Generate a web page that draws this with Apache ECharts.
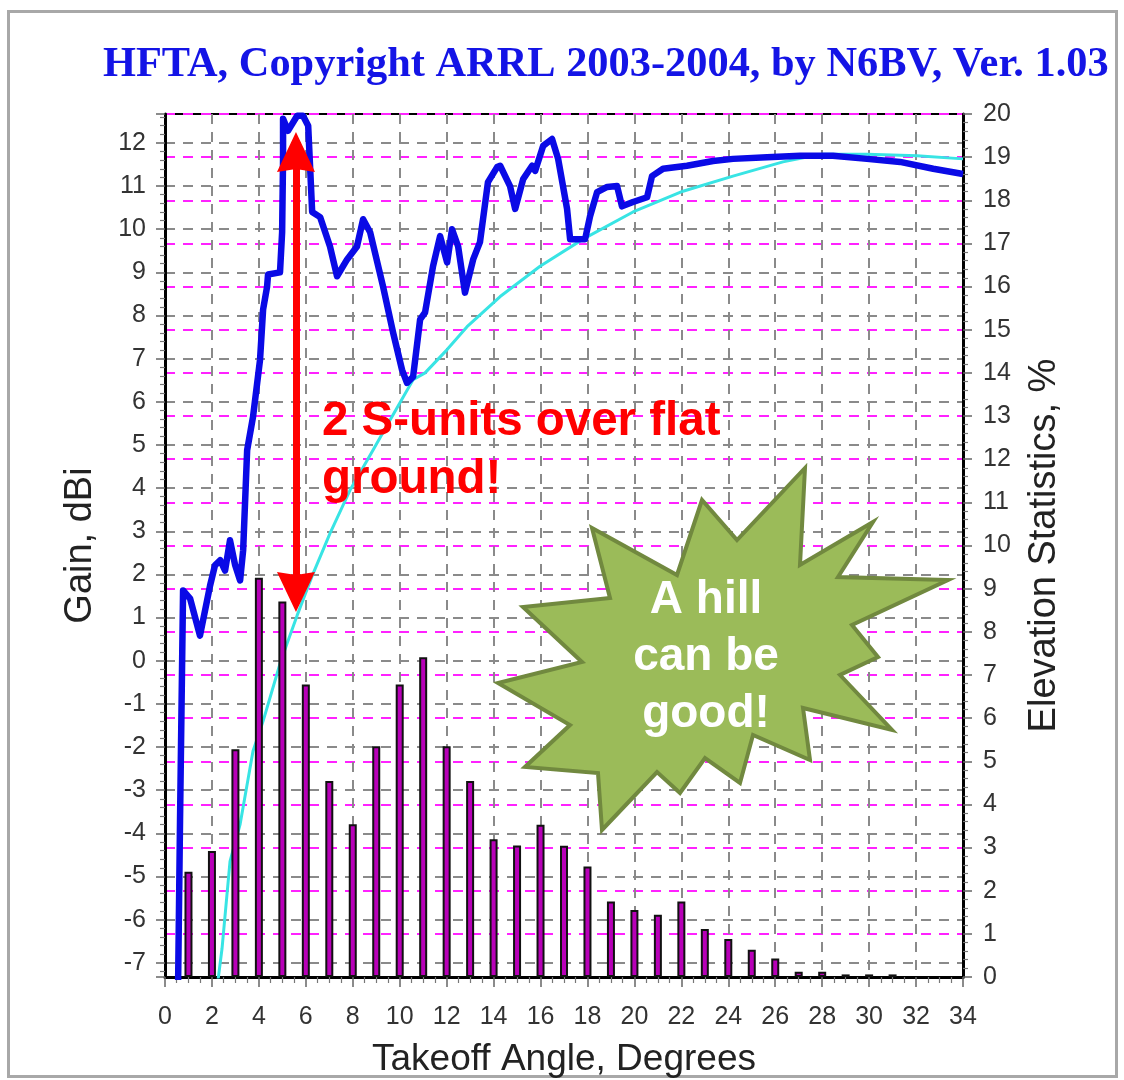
<!DOCTYPE html>
<html>
<head>
<meta charset="utf-8">
<script src="https://cdn.jsdelivr.net/npm/echarts@6/dist/echarts.min.js"></script>
<style>
html,body{margin:0;padding:0;background:#fff;}
#chart{width:1124px;height:1080px;}
</style>
</head>
<body>
<div id="chart"></div>
<script>
// ---- Data ----
const titleText = 'HFTA, Copyright ARRL 2003-2004, by N6BV, Ver. 1.03';

// Blue: gain over the hill terrain (dBi) vs takeoff angle (deg)
const hillAngle = [0.56,0.64,0.77,1.07,1.49,1.92,2.13,2.35,2.56,2.77,2.99,3.20,3.33,3.50,3.75,4.05,4.18,4.35,4.39,4.90,4.99,5.03,5.03,5.24,5.63,5.88,6.10,6.18,6.27,6.61,7.03,7.33,7.76,8.18,8.44,8.74,9.29,9.72,10.10,10.31,10.57,10.87,11.08,11.42,11.72,12.02,12.23,12.49,12.78,13.13,13.42,13.76,14.15,14.28,14.70,14.92,15.26,15.64,15.77,16.11,16.49,16.75,17.13,17.26,17.90,18.11,18.41,18.84,19.26,19.47,19.94,20.54,20.75,21.22,22.24,23.35,24.20,25.65,27.06,28.46,29.91,31.32,32.73,34.0];
const hillGain  = [-7.4,-3.72,1.63,1.44,0.58,1.74,2.21,2.33,2.09,2.79,2.21,1.86,2.56,4.88,5.65,6.98,8.14,8.67,8.95,9.0,9.93,11.63,12.56,12.28,12.63,12.63,12.40,11.47,10.40,10.28,9.60,8.91,9.30,9.60,10.23,9.93,8.67,7.60,6.74,6.44,6.58,7.91,8.07,9.14,9.84,9.23,10.0,9.60,8.53,9.30,9.70,11.09,11.44,11.47,11.0,10.47,11.16,11.47,11.35,11.93,12.09,11.63,10.47,9.77,9.77,10.30,10.86,10.98,11.0,10.53,10.63,10.74,11.23,11.40,11.47,11.58,11.63,11.67,11.70,11.70,11.63,11.56,11.40,11.28];

// Cyan: gain over flat ground (dBi)
const flatAngle = [2.26,2.43,2.77,3.20,3.75,4.18,4.90,5.20,5.63,6.31,7.03,7.88,8.86,9.59,10.57,11.08,12.02,12.87,14.28,15.98,17.81,19.94,22.07,24.20,26.33,28.0,29.91,32.04,34.0];
const flatGain  = [-7.4,-6.67,-4.65,-3.79,-2.09,-1.40,-0.07,0.40,1.05,2.02,2.95,3.95,4.88,5.58,6.51,6.67,7.21,7.74,8.44,9.14,9.77,10.40,10.88,11.23,11.56,11.74,11.74,11.70,11.63];

// Bars: elevation statistics (%) at integer takeoff angles
const elevAngle = [1,2,3,4,5,6,7,8,9,10,11,12,13,14,15,16,17,18,19,20,21,22,23,24,25,26,27,28,29,30,31];
const elevPct   = [2.44,2.92,5.28,9.25,8.70,6.78,4.54,3.54,5.35,6.78,7.41,5.35,4.54,3.19,3.05,3.53,3.04,2.56,1.75,1.55,1.44,1.75,1.11,0.88,0.63,0.43,0.12,0.12,0.06,0.06,0.06];

// Annotation arrow (angle, gain at both ends)
const arrowAngle = 5.58;
const arrowGainLow = 1.59;
const arrowGainHigh = 11.79;

const zip = (a, b) => a.map((v, i) => [v, b[i]]);

const chart = echarts.init(document.getElementById('chart'), null, {renderer: 'canvas'});

const GRAY = '#8a8a8a';
const MAG = '#ff22ff';
const labelFont = '"Liberation Sans", Arial, sans-serif';

const starPts = [[805,468],[800,565],[873,522],[838,577],[948,580],[852,625],[878,657],[840,675],[892,730],[803,708],[810,760],[753,735],[740,783],[705,758],[680,793],[657,772],[602,830],[598,773],[525,767],[570,725],[498,683],[582,662],[523,607],[610,598],[592,528],[677,575],[702,500],[737,540]];

const option = {
  backgroundColor: '#fff',
  animation: false,
  title: {
    text: titleText,
    left: 98, top: 39,
    textStyle: {fontFamily: '"Liberation Serif", "Times New Roman", serif', fontWeight: 'bold', fontSize: 42.4, color: '#1414e6'}
  },
  grid: {left: 165, top: 114, width: 798, height: 863, show: true, borderColor: '#000', borderWidth: 2,
         backgroundColor: 'transparent', containLabel: false, outerBoundsMode: 'none'},
  xAxis: {
    type: 'value', min: 0, max: 34, interval: 2,
    name: 'Takeoff Angle, Degrees', nameLocation: 'middle', nameGap: 64, nameMoveOverlap: false,
    nameTextStyle: {fontFamily: labelFont, fontSize: 37, color: '#222'},
    axisLine: {show: true, onZero: false, lineStyle: {color: '#000', width: 3}},
    axisTick: {show: true, length: 10, lineStyle: {color: '#666', width: 1.5}},
    minorTick: {show: true, splitNumber: 4, length: 6, lineStyle: {color: '#777', width: 1.2}},
    axisLabel: {fontFamily: labelFont, fontSize: 25, color: '#333', margin: 28},
    splitLine: {show: true, lineStyle: {color: GRAY, width: 2, type: [10, 8]}}
  },
  yAxis: [
    {
      type: 'value', min: -7.33, max: 12.67, splitNumber: 20, minInterval: 1, maxInterval: 1,
      position: 'left',
      name: 'Gain, dBi', nameLocation: 'middle', nameGap: 65, nameRotate: 90, nameMoveOverlap: false,
      nameTextStyle: {fontFamily: labelFont, fontSize: 38, color: '#222'},
      axisLine: {show: true, onZero: false, lineStyle: {color: '#000', width: 3}},
      axisTick: {show: true, length: 9, lineStyle: {color: '#666', width: 1.5}},
      minorTick: {show: true, splitNumber: 5, length: 5, lineStyle: {color: '#777', width: 1.2}},
      axisLabel: {fontFamily: labelFont, fontSize: 25, color: '#333', margin: 19,
        formatter: v => (Math.abs(v - Math.round(v)) < 1e-6 ? String(Math.round(v)) : '')},
      splitLine: {show: true, lineStyle: {color: GRAY, width: 2, type: [10, 8]}}
    },
    {
      type: 'value', min: 0, max: 20, interval: 1,
      position: 'right',
      name: 'Elevation Statistics, %', nameLocation: 'middle', nameGap: 63, nameRotate: 90, nameMoveOverlap: false,
      nameTextStyle: {fontFamily: labelFont, fontSize: 38, color: '#222'},
      axisLine: {show: true, onZero: false, lineStyle: {color: '#000', width: 3}},
      axisTick: {show: true, length: 9, lineStyle: {color: '#666', width: 1.5}},
      minorTick: {show: true, splitNumber: 5, length: 5, lineStyle: {color: '#777', width: 1.2}},
      axisLabel: {fontFamily: labelFont, fontSize: 25, color: '#333', margin: 20},
      splitLine: {show: true, lineStyle: {color: MAG, width: 2, type: [10, 8]}}
    }
  ],
  series: [
    {
      name: 'Flat ground', type: 'line', xAxisIndex: 0, yAxisIndex: 0, z: 2,
      data: zip(flatAngle, flatGain), symbol: 'none', smooth: false,
      lineStyle: {color: '#38e4e4', width: 3}
    },
    {
      name: 'Elevation statistics', type: 'bar', xAxisIndex: 0, yAxisIndex: 1, z: 3,
      data: zip(elevAngle, elevPct), barWidth: 8,
      itemStyle: {color: '#b800b8', borderColor: '#111', borderWidth: 2}
    },
    {
      name: 'Hill terrain', type: 'line', xAxisIndex: 0, yAxisIndex: 0, z: 4,
      data: zip(hillAngle, hillGain), symbol: 'none', smooth: false,
      lineStyle: {color: '#0a0ae6', width: 6.5, join: 'round'}
    },
    {
      name: 'arrow', type: 'line', xAxisIndex: 0, yAxisIndex: 0, z: 6,
      data: [], symbol: 'none',
      markLine: {
        silent: true, animation: false,
        symbol: ['path://M10,0 L20,40 L10,37 L0,40 Z', 'path://M10,0 L20,40 L10,37 L0,40 Z'],
        symbolSize: [38, 40],
        lineStyle: {color: '#ff0000', width: 7, type: 'solid'},
        label: {show: false},
        emphasis: {disabled: true},
        data: [[{coord: [arrowAngle, arrowGainLow]}, {coord: [arrowAngle, arrowGainHigh]}]]
      }
    }
  ],
  graphic: [
    {type: 'rect', z: 0, silent: true, shape: {x: 8.5, y: 11.5, width: 1108, height: 1065},
     style: {fill: 'none', stroke: '#a8a8a8', lineWidth: 3}},
    {type: 'polygon', z: 50, silent: true, shape: {points: starPts},
     style: {fill: '#9bbb59', stroke: '#71893f', lineWidth: 4, lineJoin: 'miter'}},
    {type: 'text', z: 51, silent: true,
     style: {x: 706, y: 657, text: 'A hill\ncan be\ngood!', align: 'center', verticalAlign: 'middle',
             font: 'bold 46px "Liberation Sans", Arial, sans-serif', fill: '#ffffff', lineHeight: 57}},
    {type: 'text', z: 51, silent: true,
     style: {x: 322, y: 451, text: '2 S-units over flat\nground!', align: 'left', verticalAlign: 'middle',
             font: 'bold 47.5px "Liberation Sans", Arial, sans-serif', fill: '#ff0000', lineHeight: 58}}
  ]
};

chart.setOption(option);
</script>
</body>
</html>
